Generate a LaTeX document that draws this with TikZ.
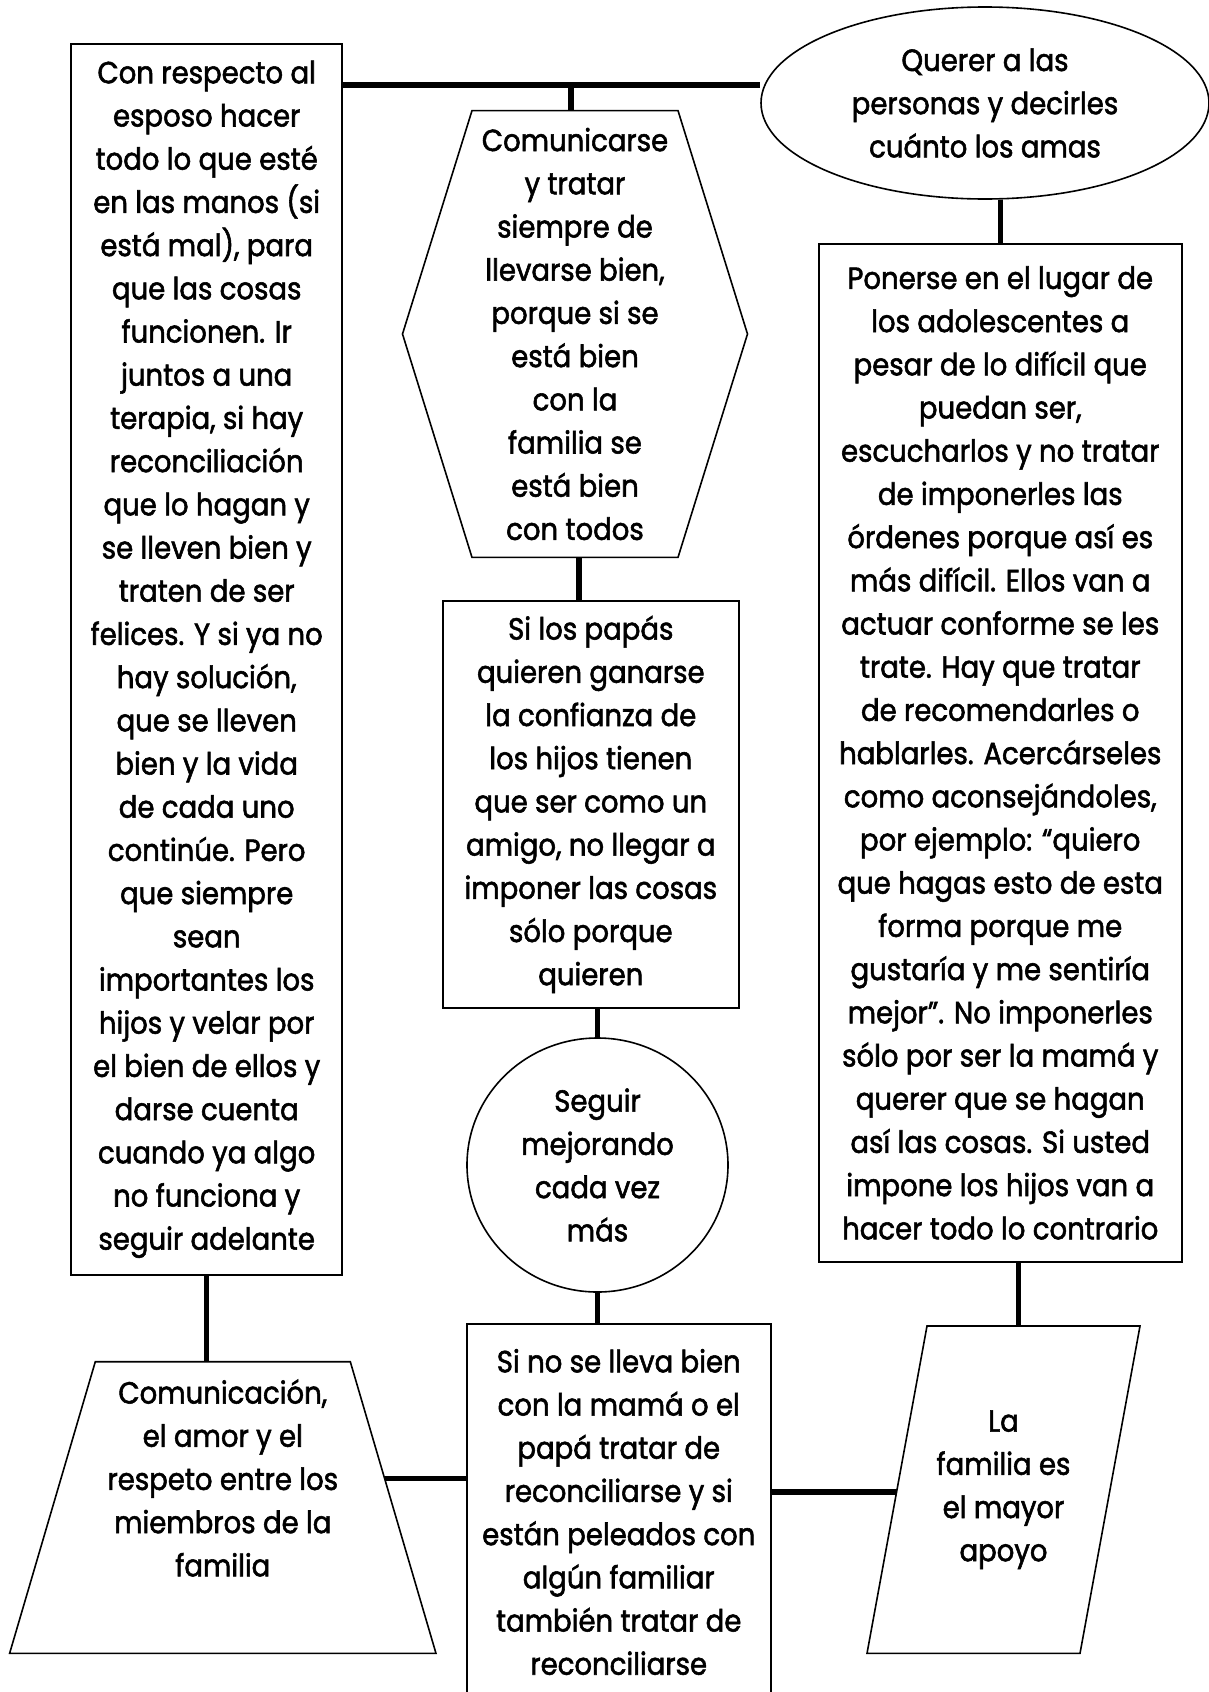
\documentclass[tikz,border=0pt]{standalone}
\usepackage{fontspec}
\setmainfont{Poppins}[FakeStretch=0.9, FakeBold=1.8]
\usetikzlibrary{shapes.geometric}
\newcommand{\boxfont}{\fontsize{15.3pt}{21.6pt}\selectfont}

\begin{document}
\begin{tikzpicture}[x=0.5pt, y=-0.5pt]
%style for rectangular boxes
\tikzstyle{box} = [rectangle, draw=black, line width=1pt, align=center, inner sep=0pt, font=\boxfont]

%style for round boxes
\tikzstyle{blob} = [ellipse, draw=black, line width=0.8pt, align=center, inner sep=0pt, font=\boxfont]

%style for text of the drawn shapes
\tikzstyle{txt} = [align=center, inner sep=0pt, font=\boxfont]
\tikzstyle{outline} = [draw=black, line width=0.8pt]

%style for thick connecting lines
\tikzstyle{conn} = [draw=black, line width=2.7pt]

\useasboundingbox (0,0) rectangle (1209,1692);
\clip (0,0) rectangle (1209,1692);

%place nodes
\node[box, minimum width=135.3pt, minimum height=615.7pt] (leftBox) at (206.7,659.3) {Con respecto al\\esposo hacer\\todo lo que esté\\en las manos (si\\está mal), para\\que las cosas\\funcionen. Ir\\juntos a una\\terapia, si hay\\reconciliación\\que lo hagan y\\se lleven bien y\\traten de ser\\felices. Y si ya no\\hay solución,\\que se lleven\\bien y la vida\\de cada uno\\continúe. Pero\\que siempre\\sean\\importantes los\\hijos y velar por\\el bien de ellos y\\darse cuenta\\cuando ya algo\\no funciona y\\seguir adelante};
\node[blob, minimum width=224pt, minimum height=96pt] (querer) at (985,103) {Querer a las\\personas y decirles\\cuánto los amas};
\node[txt] (comunicarse) at (575,334) {Comunicarse\\y tratar\\siempre de\\llevarse bien,\\porque si se\\está bien\\con la\\familia se\\está bien\\con todos};
\node[box, minimum width=147.8pt, minimum height=203.1pt] (papas) at (590.8,804.4) {Si los papás\\quieren ganarse\\la confianza de\\los hijos tienen\\que ser como un\\amigo, no llegar a\\imponer las cosas\\sólo porque\\quieren};
\node[blob, minimum width=130.5pt, minimum height=127pt] (seguir) at (597.5,1165) {Seguir\\mejorando\\cada vez\\más};
\node[box, minimum width=181.25pt, minimum height=508.9pt] (ponerse) at (1000.25,752.9) {Ponerse en el lugar de\\los adolescentes a\\pesar de lo difícil que\\puedan ser,\\escucharlos y no tratar\\de imponerles las\\órdenes porque así es\\más difícil. Ellos van a\\actuar conforme se les\\trate. Hay que tratar\\de recomendarles o\\hablarles. Acercárseles\\como aconsejándoles,\\por ejemplo: “quiero\\que hagas esto de esta\\forma porque me\\gustaría y me sentiría\\mejor”. No imponerles\\sólo por ser la mamá y\\querer que se hagan\\así las cosas. Si usted\\impone los hijos van a\\hacer todo lo contrario};
\node[txt] (comunicacion) at (222.8,1478) {Comunicación,\\el amor y el\\respeto entre los\\miembros de la\\familia};
\node[box, minimum width=151.95pt, minimum height=188pt] (reconciliarse) at (618.75,1512) {Si no se lleva bien\\con la mamá o el\\papá tratar de\\reconciliarse y si\\están peleados con\\algún familiar\\también tratar de\\reconciliarse};
\node[txt] (familia) at (1003.5,1489.7) {La\\familia es\\el mayor\\apoyo};

%outlines of hexagon, trapezoid and parallelogram
\draw[outline, shift={(comunicarse.center)}] (-103,-223.4) -- (103,-223.4) -- (172.5,0) -- (103,223.4) -- (-103,223.4) -- (-172.5,0) -- cycle;
\path[shift={(comunicarse.center)}] (-4,-223.4) coordinate (comunicarseTop) (4,223.4) coordinate (comunicarseBottom);
\draw[outline, shift={(comunicacion.center)}] (-127.5,-116.3) -- (127.5,-116.3) -- (213.2,175.4) -- (-213.2,175.4) -- cycle;
\path[shift={(comunicacion.center)}] (0,-116.3) coordinate (comunicacionTop) (161.8,0.6) coordinate (comunicacionRight);
\draw[outline, shift={(familia.center)}] (-76.5,-163.7) -- (136.5,-163.7) -- (76.5,163.7) -- (-136.5,163.7) -- cycle;
\path[shift={(familia.center)}] (15,-163.7) coordinate (familiaTop) (-106.7,2.3) coordinate (familiaLeft);

%connect nodes with lines
\coordinate (topJoint) at (571,85);
\draw[conn] (leftBox.east |- topJoint) -- (querer.west |- topJoint);
\draw[conn] (topJoint) -- (comunicarseTop);
\draw[conn] (comunicarseBottom) -- (comunicarseBottom |- papas.north);
\draw[conn] (seguir.north |- papas.south) -- (seguir.north);
\draw[conn] (seguir.south) -- (seguir.south |- reconciliarse.north);
\draw[conn] (ponerse.north |- querer.south) -- (ponerse.north);
\draw[conn] (leftBox.south) -- (leftBox.south |- comunicacionTop);
\draw[conn] (comunicacionRight) -- (comunicacionRight -| reconciliarse.west);
\draw[conn] (reconciliarse.east |- familiaLeft) -- (familiaLeft);
\draw[conn] (ponerse.south -| familiaTop) -- (familiaTop);
\end{tikzpicture}
\end{document}
